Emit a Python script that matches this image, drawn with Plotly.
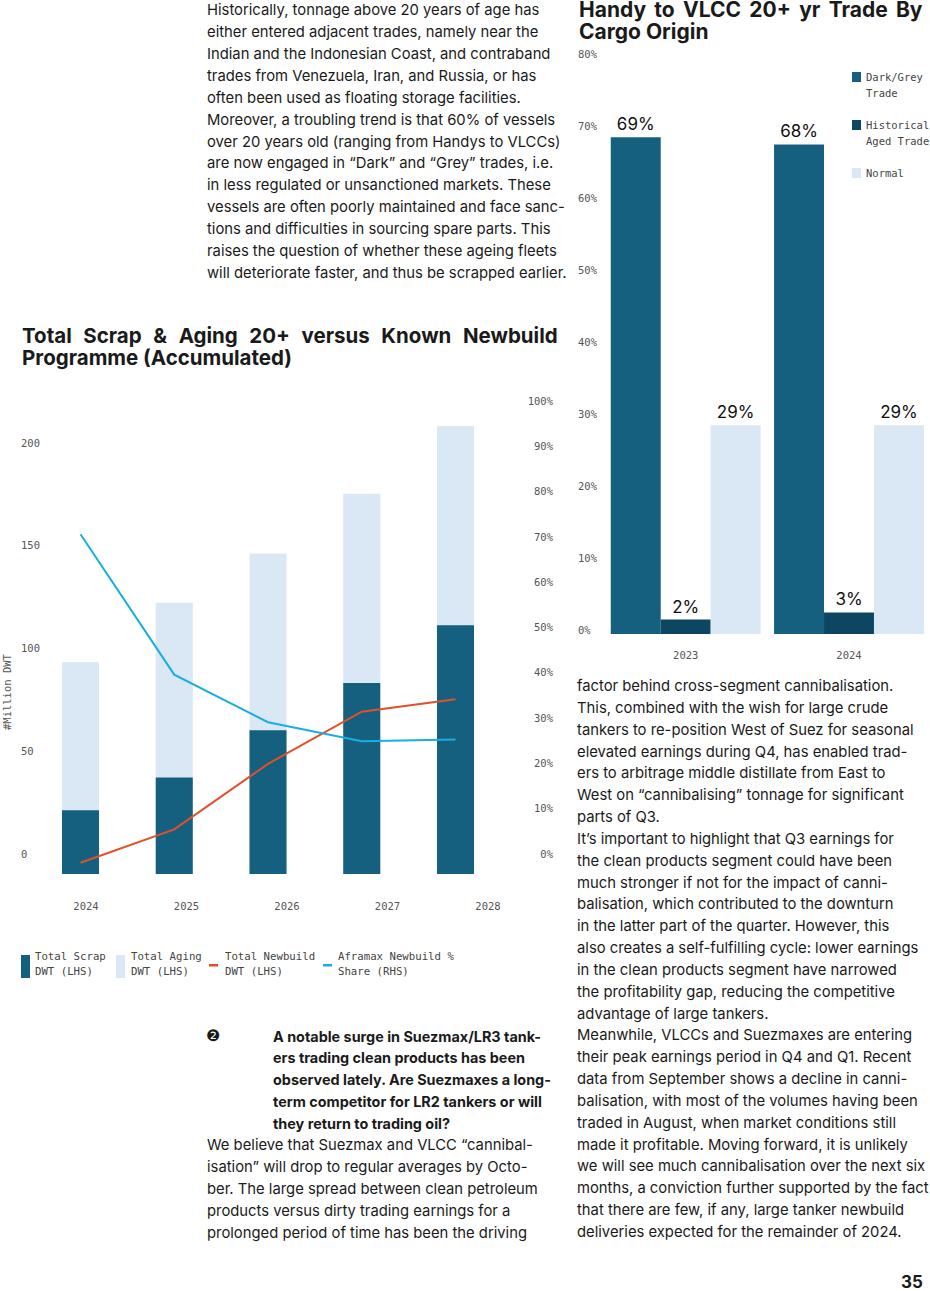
import plotly.graph_objects as go

W, H = 930, 1291

# ---------------- Data: left chart ----------------
years = ["2024", "2025", "2026", "2027", "2028"]
total_scrap = [31, 47, 70, 93, 121]          # Million DWT (LHS)
total_aging = [103, 132, 156, 185, 218]      # Million DWT (LHS)
total_newbuild = [5.5, 21.7, 53.6, 79, 85]   # Million DWT (LHS)
aframax_share = [75, 44, 33.5, 29.3, 29.7]   # % (RHS)
lhs_ticks = [0, 50, 100, 150, 200]
rhs_ticks = [0, 10, 20, 30, 40, 50, 60, 70, 80, 90, 100]

# ---------------- Data: right chart ----------------
trade_years = ["2023", "2024"]
dark_grey = [69, 68]
historical_aged = [2, 3]
normal_trade = [29, 29]
pct_ticks = [0, 10, 20, 30, 40, 50, 60, 70, 80]

# ---------------- Colours / fonts ----------------
C_DARK = "#16607f"
C_HIST = "#0c4662"
C_LIGHT = "#dae7f5"
C_RED = "#e1502b"
C_CYAN = "#1aaee0"
MONO = "DejaVu Sans Mono"
SANS = "Inter"
TXT = "#1a1a1a"
TICK = "#555555"
BODY = 14.8


def px(x):
    return x / W


def py(y):
    return 1 - y / H


fig = go.Figure()

# ---------- Left chart traces ----------
fig.add_trace(go.Bar(x=years, y=total_aging, name="Total Aging DWT (LHS)",
                     marker=dict(color=C_LIGHT, line=dict(width=0)),
                     width=0.395, offset=-0.1975, xaxis="x", yaxis="y",
                     showlegend=False))
fig.add_trace(go.Bar(x=years, y=total_scrap, name="Total Scrap DWT (LHS)",
                     marker=dict(color=C_DARK, line=dict(width=0)),
                     width=0.395, offset=-0.1975, xaxis="x", yaxis="y",
                     showlegend=False))
fig.add_trace(go.Scatter(x=years, y=total_newbuild, name="Total Newbuild DWT (LHS)",
                         mode="lines", line=dict(color=C_RED, width=2),
                         xaxis="x", yaxis="y", showlegend=False))
fig.add_trace(go.Scatter(x=years, y=aframax_share, name="Aframax Newbuild % Share (RHS)",
                         mode="lines", line=dict(color=C_CYAN, width=2),
                         xaxis="x", yaxis="y2", showlegend=False))
# invisible trace carrying the year tick-label axis
fig.add_trace(go.Scatter(x=list(range(len(years))), y=[None] * len(years),
                         mode="markers", xaxis="x3", yaxis="y",
                         showlegend=False, hoverinfo="skip"))

# ---------- Right chart traces ----------
bw = 0.306
for vals, col, nm, off in [(dark_grey, C_DARK, "Dark/Grey Trade", -1.5 * bw),
                           (historical_aged, C_HIST, "Historical Aged Trade", -0.5 * bw),
                           (normal_trade, C_LIGHT, "Normal", 0.5 * bw)]:
    fig.add_trace(go.Bar(x=trade_years, y=vals, name=nm,
                         marker=dict(color=col, line=dict(width=0)),
                         width=bw, offset=off, xaxis="x2", yaxis="y3",
                         text=[f"{v}%" for v in vals], textposition="outside",
                         textfont=dict(family=SANS, size=17, color="#111111"),
                         cliponaxis=False, showlegend=False))

# ---------- Axes ----------
L0, L1 = 18, 556
bar_step, lab_step = 93.75, 100.5
a = -(80.5 - L0) / bar_step
c = -(86 - L0) / lab_step
tickfont = dict(family=MONO, size=10.5, color=TICK)

# left chart: zero at y=874 px, top of plot area at y=375 px
LY0, LYT = 874, 375
# right chart: zero at y=634 px, plot area y=40..642 px
RPX = 7.2
RY0, RYB, RYT = 634, 642, 40

fig.update_layout(
    xaxis=dict(domain=[px(L0), px(L1)], anchor="y", type="category",
               range=[a, a + (L1 - L0) / bar_step], showticklabels=False,
               showgrid=False, zeroline=False, showline=False, ticks="",
               automargin=False, fixedrange=True),
    xaxis3=dict(overlaying="x", anchor="y", side="bottom",
                range=[c, c + (L1 - L0) / lab_step], tickmode="array",
                tickvals=list(range(len(years))), ticktext=years,
                tickfont=tickfont, ticks="outside", ticklen=22,
                tickcolor="rgba(0,0,0,0)", showgrid=False, zeroline=False,
                showline=False, automargin=False),
    yaxis=dict(domain=[py(LY0), py(LYT)], anchor="x", range=[0, (LY0 - LYT) / 2.055],
               tickmode="array", tickvals=lhs_ticks,
               ticktext=[str(v) for v in lhs_ticks], tickfont=tickfont,
               ticklabelposition="inside", ticklabelshift=-20,
               showgrid=False, zeroline=False, showline=False, ticks="",
               automargin=False),
    yaxis2=dict(overlaying="y", anchor="x", side="right", range=[0, (LY0 - LYT) / 4.53],
                tickmode="array", tickvals=rhs_ticks,
                ticktext=[f"{v}%" for v in rhs_ticks],
                tickfont=tickfont, ticklabelposition="inside", ticklabelshift=-20,
                showgrid=False, zeroline=False, showline=False, ticks="",
                automargin=False),
    xaxis2=dict(domain=[px(575), 1.0], anchor="y3", type="category",
                range=[-(685.7 - 575) / 163.3, -(685.7 - 575) / 163.3 + 355 / 163.3],
                tickfont=tickfont, ticks="outside", ticklen=3,
                tickcolor="rgba(0,0,0,0)", showgrid=False, zeroline=False,
                showline=False, automargin=False),
    yaxis3=dict(domain=[py(RYB), py(RYT)], anchor="x2",
                range=[-(RYB - RY0) / RPX, (RY0 - RYT) / RPX],
                tickmode="array", tickvals=pct_ticks,
                ticktext=[f"{v}%" for v in pct_ticks],
                tickfont=tickfont, ticklabelposition="inside", ticklabelshift=-4,
                showgrid=False, zeroline=False, showline=False, ticks="",
                automargin=False),
    barmode="overlay",
    width=W, height=H, autosize=False,
    margin=dict(l=0, r=0, t=0, b=0),
    paper_bgcolor="white", plot_bgcolor="white",
)

annotations = []
shapes = []


def line(x, y, text, size=BODY, family=SANS, color=TXT, xanchor="left", angle=0):
    annotations.append(dict(x=px(x), y=py(y), xref="paper", yref="paper",
                            text=text, showarrow=False, xanchor=xanchor,
                            yanchor="middle", textangle=angle,
                            font=dict(family=family, size=size, color=color)))


def block(x, y0, lines, step=21.84, **kw):
    for i, t in enumerate(lines):
        line(x, y0 + i * step, t, **kw)


# ---------- Titles (first lines widened to mimic justified setting) ----------
line(20, 335, "<b>" + " \u2005\u200a".join("Total Scrap &amp; Aging 20+ versus Known Newbuild".split(" ")) + "</b>", size=20.5)
line(20, 357, "<b>Programme (Accumulated)</b>", size=20.5)
line(577, 9.5, "<b>" + " \u2009".join("Handy to VLCC 20+ yr Trade By".split(" ")) + "</b>", size=21)
line(577, 31, "<b>Cargo Origin</b>", size=21)

# left axis title
line(7, 692, "#Million DWT", size=10.5, family=MONO, color=TICK, xanchor="center", angle=-90)

# ---------- Left legend ----------
LEGC = "#444444"
leg_items = [
    (21, "rect", C_DARK, 33, "Total Scrap", "DWT (LHS)"),
    (116, "rect", C_LIGHT, 129, "Total Aging", "DWT (LHS)"),
    (209, "dash", C_RED, 223, "Total Newbuild", "DWT (LHS)"),
    (323, "dash", C_CYAN, 336, "Aframax Newbuild %", "Share (RHS)"),
]
for sx, kind, col, tx, t1, t2 in leg_items:
    if kind == "rect":
        shapes.append(dict(type="rect", xref="paper", yref="paper",
                           x0=px(sx), x1=px(sx + 9), y0=py(978), y1=py(955),
                           fillcolor=col, line=dict(width=0)))
    else:
        shapes.append(dict(type="rect", xref="paper", yref="paper",
                           x0=px(sx), x1=px(sx + 9), y0=py(966.5), y1=py(964),
                           fillcolor=col, line=dict(width=0)))
    line(tx, 956, t1, size=10.7, family=MONO, color=LEGC)
    line(tx, 972, t2, size=10.7, family=MONO, color=LEGC)

# ---------- Right legend ----------
rleg = [(77, C_DARK, ["Dark/Grey", "Trade"]),
        (125, C_HIST, ["Historical", "Aged Trade"]),
        (173, C_LIGHT, ["Normal"])]
for yy, col, labs in rleg:
    shapes.append(dict(type="rect", xref="paper", yref="paper",
                       x0=px(852), x1=px(861), y0=py(yy + 5), y1=py(yy - 5),
                       fillcolor=col, line=dict(width=0)))
    for k, t in enumerate(labs):
        line(864, yy + k * 16, t, size=10.5, family=MONO, color=LEGC)

# ---------- Body text ----------
top_left = [
    "Historically, tonnage above 20 years of age has",
    "either entered adjacent trades, namely near the",
    "Indian and the Indonesian Coast, and contraband",
    "trades from Venezuela, Iran, and Russia, or has",
    "often been used as floating storage facilities.",
    "Moreover, a troubling trend is that 60% of vessels",
    "over 20 years old (ranging from Handys to VLCCs)",
    "are now engaged in “Dark” and “Grey” trades, i.e.",
    "in less regulated or unsanctioned markets. These",
    "vessels are often poorly maintained and face sanc-",
    "tions and difficulties in sourcing spare parts. This",
    "raises the question of whether these ageing fleets",
    "will deteriorate faster, and thus be scrapped earlier.",
]
block(205, 10.5, top_left)

question = [
    "A notable surge in Suezmax/LR3 tank-",
    "ers trading clean products has been",
    "observed lately. Are Suezmaxes a long-",
    "term competitor for LR2 tankers or will",
    "they return to trading oil?",
]
block(271, 1036, ["<b>" + q + "</b>" for q in question], size=14.4)
line(213, 1035, "❷", size=16, family="DejaVu Sans", xanchor="center")

bottom_left = [
    "We believe that Suezmax and VLCC “cannibal-",
    "isation” will drop to regular averages by Octo-",
    "ber. The large spread between clean petroleum",
    "products versus dirty trading earnings for a",
    "prolonged period of time has been the driving",
]
block(205, 1145.2, bottom_left)

right_col = [
    "factor behind cross-segment cannibalisation.",
    "This, combined with the wish for large crude",
    "tankers to re-position West of Suez for seasonal",
    "elevated earnings during Q4, has enabled trad-",
    "ers to arbitrage middle distillate from East to",
    "West on “cannibalising” tonnage for significant",
    "parts of Q3.",
    "It’s important to highlight that Q3 earnings for",
    "the clean products segment could have been",
    "much stronger if not for the impact of canni-",
    "balisation, which contributed to the downturn",
    "in the latter part of the quarter. However, this",
    "also creates a self-fulfilling cycle: lower earnings",
    "in the clean products segment have narrowed",
    "the profitability gap, reducing the competitive",
    "advantage of large tankers.",
    "Meanwhile, VLCCs and Suezmaxes are entering",
    "their peak earnings period in Q4 and Q1. Recent",
    "data from September shows a decline in canni-",
    "balisation, with most of the volumes having been",
    "traded in August, when market conditions still",
    "made it profitable. Moving forward, it is unlikely",
    "we will see much cannibalisation over the next six",
    "months, a conviction further supported by the fact",
    "that there are few, if any, large tanker newbuild",
    "deliveries expected for the remainder of 2024.",
]
block(575, 686, right_col)

line(925, 1282, "<b>35</b>", size=17, xanchor="right")

fig.update_layout(annotations=annotations, shapes=shapes)
fig.write_html("out.html",
               config={"displayModeBar": False},
               post_script="document.body.style.margin='0';document.body.style.padding='0';")
